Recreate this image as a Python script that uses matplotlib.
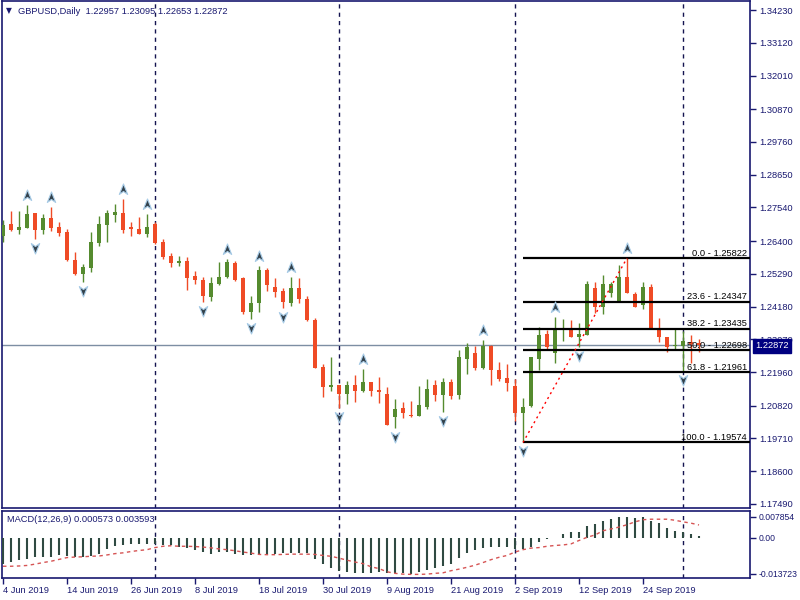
import matplotlib
matplotlib.use('Agg')
import matplotlib.pyplot as plt
import numpy as np
from matplotlib.path import Path
import matplotlib.transforms as mtransforms

# ---------------- data ----------------
symbol_title = "GBPUSD,Daily  1.22957 1.23095 1.22653 1.22872"
macd_title = "MACD(12,26,9) 0.000573 0.003593"

date_tick_idx = [0, 8, 16, 24, 32, 40, 48, 56, 64, 72, 80]
date_tick_labels = ["4 Jun 2019", "14 Jun 2019", "26 Jun 2019", "8 Jul 2019",
                    "18 Jul 2019", "30 Jul 2019", "9 Aug 2019", "21 Aug 2019",
                    "2 Sep 2019", "12 Sep 2019", "24 Sep 2019"]
month_sep_idx = [19, 42, 64, 85]

opens = [1.2657, 1.2698, 1.2678, 1.2684, 1.2735, 1.2678, 1.2718, 1.2688, 1.2671, 1.2576,
         1.2528, 1.2549, 1.2633, 1.2694, 1.2728, 1.2735, 1.2688, 1.2681, 1.2664, 1.2698,
         1.2637, 1.2589, 1.2566, 1.2573, 1.2522, 1.2508, 1.2450, 1.2495, 1.2518, 1.2566,
         1.2515, 1.2400, 1.2430, 1.2542, 1.2484, 1.2471, 1.2430, 1.2481, 1.2444, 1.2373,
         1.2213, 1.2146, 1.2152, 1.2122, 1.2152, 1.2132, 1.2162, 1.2135, 1.2122, 1.2044,
         1.2074, 1.2051, 1.2047, 1.2078, 1.2152, 1.2118, 1.2162, 1.2118, 1.2240, 1.2261,
         1.2210, 1.2284, 1.2203, 1.2176, 1.2149, 1.2057, 1.2081, 1.2240, 1.2325, 1.2261,
         1.2339, 1.2342, 1.2315, 1.2322, 1.2481, 1.2417, 1.2464, 1.2434, 1.2518, 1.2461,
         1.2423, 1.2484, 1.2342, 1.2315, 1.2284, 1.2284, 1.2298, 1.22957]
highs = [1.2711, 1.2742, 1.2742, 1.2762, 1.2735, 1.2732, 1.2755, 1.2705, 1.2681, 1.2603,
         1.2562, 1.2671, 1.2725, 1.2745, 1.2766, 1.2783, 1.2705, 1.2722, 1.2732, 1.2705,
         1.2647, 1.2600, 1.2589, 1.2586, 1.2539, 1.2518, 1.2518, 1.2569, 1.2579, 1.2573,
         1.2518, 1.2454, 1.2556, 1.2549, 1.2515, 1.2481, 1.2518, 1.2515, 1.2454, 1.2379,
         1.2223, 1.2247, 1.2152, 1.2166, 1.2186, 1.2207, 1.2162, 1.2179, 1.2146, 1.2105,
         1.2095, 1.2098, 1.2149, 1.2173, 1.2169, 1.2176, 1.2173, 1.2271, 1.2295, 1.2284,
         1.2305, 1.2288, 1.2230, 1.2223, 1.2173, 1.2108, 1.2247, 1.2349, 1.2339, 1.2383,
         1.2376, 1.2373, 1.2362, 1.2505, 1.2501, 1.2525, 1.2501, 1.2559, 1.25822, 1.2467,
         1.2501, 1.2495, 1.2379, 1.2315, 1.2342, 1.2335, 1.2322, 1.23095]
lows = [1.2637, 1.2674, 1.2664, 1.2684, 1.2647, 1.2664, 1.2674, 1.2657, 1.2572, 1.2525,
        1.2501, 1.2535, 1.2623, 1.2637, 1.2705, 1.2667, 1.2657, 1.2664, 1.2654, 1.2630,
        1.2579, 1.2552, 1.2556, 1.2474, 1.2495, 1.2434, 1.2437, 1.2491, 1.2515, 1.2505,
        1.2393, 1.2376, 1.2400, 1.2471, 1.2450, 1.2413, 1.2420, 1.2430, 1.2369, 1.2210,
        1.2112, 1.2132, 1.2074, 1.2088, 1.2095, 1.2129, 1.2115, 1.2091, 1.2017, 1.2007,
        1.2040, 1.2044, 1.2047, 1.2071, 1.2098, 1.2061, 1.2105, 1.2105, 1.2190, 1.2203,
        1.2207, 1.2152, 1.2166, 1.2132, 1.2030, 1.19574, 1.2078, 1.2203, 1.2274, 1.2227,
        1.2301, 1.2315, 1.2281, 1.2322, 1.2396, 1.2393, 1.2450, 1.2434, 1.2464, 1.2417,
        1.2410, 1.2342, 1.2298, 1.2264, 1.2271, 1.2200, 1.2227, 1.22653]
closes = [1.2694, 1.2678, 1.2688, 1.2732, 1.2678, 1.2718, 1.2684, 1.2667, 1.2576, 1.2528,
          1.2552, 1.2637, 1.2698, 1.2735, 1.2738, 1.2678, 1.2681, 1.2664, 1.2688, 1.2633,
          1.2586, 1.2566, 1.2573, 1.2515, 1.2508, 1.2454, 1.2498, 1.2518, 1.2569, 1.2508,
          1.2400, 1.2430, 1.2542, 1.2491, 1.2467, 1.2434, 1.2481, 1.2444, 1.2373, 1.2210,
          1.2146, 1.2152, 1.2122, 1.2152, 1.2132, 1.2162, 1.2132, 1.2129, 1.2017, 1.2071,
          1.2057, 1.2047, 1.2085, 1.2139, 1.2118, 1.2162, 1.2115, 1.2247, 1.2281, 1.2210,
          1.2284, 1.2203, 1.2173, 1.2159, 1.2057, 1.2078, 1.2247, 1.2322, 1.2281, 1.2339,
          1.2345, 1.2315, 1.2325, 1.2495, 1.2417, 1.2495, 1.2495, 1.2518, 1.2464, 1.2417,
          1.2484, 1.2342, 1.2315, 1.2281, 1.2288, 1.2301, 1.2291, 1.22872]

fractal_up_idx = [3, 6, 15, 18, 28, 32, 36, 45, 60, 69, 78]
fractal_down_idx = [4, 10, 25, 31, 35, 42, 49, 55, 65, 72, 85]

macd_main = [-0.0099, -0.0093, -0.0084, -0.0080, -0.0074, -0.0074, -0.0074, -0.0068, -0.0070, -0.0074,
             -0.0074, -0.0070, -0.0061, -0.0045, -0.0033, -0.0028, -0.0026, -0.0024, -0.0024, -0.0024,
             -0.0028, -0.0030, -0.0036, -0.0039, -0.0049, -0.0055, -0.0061, -0.0055, -0.0055, -0.0061,
             -0.0065, -0.0068, -0.0061, -0.0061, -0.0061, -0.0059, -0.0059, -0.0059, -0.0059, -0.0080,
             -0.0099, -0.0114, -0.0126, -0.0130, -0.0136, -0.0136, -0.0136, -0.0130, -0.0136, -0.0136,
             -0.0136, -0.0137, -0.0130, -0.0124, -0.0115, -0.0109, -0.0099, -0.0078, -0.0059, -0.0049,
             -0.0040, -0.0036, -0.0034, -0.0034, -0.0043, -0.0043, -0.0034, -0.0015, -0.0005, -0.0001,
             0.0014, 0.0020, 0.0023, 0.0045, 0.0051, 0.0064, 0.0070, 0.0079, 0.007854, 0.0074,
             0.0078, 0.0064, 0.0054, 0.0038, 0.0026, 0.0020, 0.0015, 0.0007]
macd_signal = [-0.0109, -0.0109, -0.0108, -0.0106, -0.0101, -0.0095, -0.0090, -0.0083, -0.0076, -0.0074,
               -0.0073, -0.0071, -0.0070, -0.0066, -0.0061, -0.0058, -0.0053, -0.0049, -0.0046, -0.0038,
               -0.0033, -0.0031, -0.0033, -0.0033, -0.0034, -0.0036, -0.0039, -0.0043, -0.0046, -0.0050,
               -0.0055, -0.0059, -0.0064, -0.0065, -0.0065, -0.0064, -0.0063, -0.0063, -0.0063, -0.0064,
               -0.0068, -0.0071, -0.0078, -0.0086, -0.0093, -0.0099, -0.0111, -0.0118, -0.0130, -0.0136,
               -0.0139, -0.0140, -0.0140, -0.0139, -0.0136, -0.0134, -0.0126, -0.0120, -0.0113, -0.0105,
               -0.0095, -0.0084, -0.0075, -0.0068, -0.0055, -0.0046, -0.0040, -0.0038, -0.0033, -0.0030,
               -0.0028, -0.0024, -0.0011, 0.0001, 0.0010, 0.0026, 0.0033, 0.0040, 0.0049, 0.0060,
               0.0068, 0.0070, 0.0070, 0.0070, 0.0066, 0.0060, 0.0055, 0.0048]

fib_start_idx = 65
fib_end_idx = 78
fib_pcts = ["0.0", "23.6", "38.2", "50.0", "61.8", "100.0"]
fib_levels = [1.25822, 1.24347, 1.23435, 1.22698, 1.21961, 1.19574]

last_price = 1.22872
price_ticks = [1.34230, 1.33120, 1.32010, 1.30870, 1.29760, 1.28650, 1.27540, 1.26400,
               1.25290, 1.24180, 1.23070, 1.21960, 1.20820, 1.19710, 1.18600, 1.17490]
macd_ticks = [0.007854, 0.0, -0.013723]
macd_tick_labels = ["0.007854", "0.00", "-0.013723"]

# ---------------- style ----------------
NAVY = '#191970'
BULL = '#558b2f'
BEAR = '#ef4b26'
FONT = 'Liberation Sans'
FS = 6.7

plt.rcParams['font.family'] = [FONT, 'DejaVu Sans']

fig = plt.figure(figsize=(8, 6), dpi=100)
ax = fig.add_axes([2/800, 1-508/600, 748/800, 507/600])
ax2 = fig.add_axes([2/800, 1-578/600, 748/800, 67/600])

n = len(closes)
x = np.arange(n)
o = np.array(opens); h = np.array(highs); l = np.array(lows); c = np.array(closes)
up = c >= o
colors = np.where(up, BULL, BEAR)

XMIN, XMAX = -0.125, 93.375

# current price line
ax.axhline(last_price, color='#7d8ea3', lw=1, zorder=1)

# wicks
ax.vlines(x, l, h, colors=colors, lw=1, zorder=3)
# bodies
bottoms = np.minimum(o, c)
heights = np.maximum(np.abs(c - o), 0.0003)
ax.bar(x, heights, bottom=bottoms, width=0.62, color=colors, lw=0, zorder=4)

# fibonacci retracement
ax.hlines(fib_levels, fib_start_idx, XMAX, colors='black', lw=1.6, zorder=5)
ax.plot([fib_start_idx, fib_end_idx], [fib_levels[-1], fib_levels[0]],
        color='red', lw=1, ls=(0, (1.5, 2.5)), zorder=6)
lab_tr = mtransforms.blended_transform_factory(ax.transAxes, ax.transData)
lab_tr = mtransforms.offset_copy(lab_tr, fig=fig, x=0, y=2.5, units='dots')
for pct, lev in zip(fib_pcts, fib_levels):
    ax.text((747-2)/748, lev, f"{pct} - {lev:.5f}", transform=lab_tr,
            ha='right', va='baseline', fontsize=FS, color='black', zorder=7)

# fractal markers
up_marker = Path([(0, 1), (0.75, -0.9), (0, -0.35), (-0.75, -0.9), (0, 1)],
                 [Path.MOVETO, Path.LINETO, Path.LINETO, Path.LINETO, Path.CLOSEPOLY])
down_marker = Path([(0, -1), (0.75, 0.9), (0, 0.35), (-0.75, 0.9), (0, -1)],
                   [Path.MOVETO, Path.LINETO, Path.LINETO, Path.LINETO, Path.CLOSEPOLY])
tr_up = mtransforms.offset_copy(ax.transData, fig=fig, x=0, y=10, units='dots')
tr_dn = mtransforms.offset_copy(ax.transData, fig=fig, x=0, y=-9, units='dots')
ax.plot(fractal_up_idx, [highs[i] for i in fractal_up_idx], transform=tr_up, ls='none',
        marker=up_marker, ms=8, mfc='#34424c', mec='#a9cde8', mew=0.8, zorder=8)
ax.plot(fractal_down_idx, [lows[i] for i in fractal_down_idx], transform=tr_dn, ls='none',
        marker=down_marker, ms=8, mfc='#34424c', mec='#a9cde8', mew=0.8, zorder=8)

ax.set_xlim(XMIN, XMAX)
ax.set_ylim(1.17354, 1.34535)
ax.yaxis.tick_right()
ax.set_yticks(price_ticks)
ax.set_yticklabels([f"{t:.5f}" for t in price_ticks])
ax.set_xticks([])
ax.tick_params(axis='y', direction='out', length=4, width=1, colors=NAVY,
               labelsize=FS, pad=3)

# MACD panel
ax2.vlines(x, 0, macd_main, colors='#2f4a42', lw=1.5, zorder=3)
ax2.plot(x, macd_signal, color='#d65454', lw=1, ls=(0, (2.5, 2.5)), zorder=4)
ax2.set_xlim(XMIN, XMAX)
ax2.set_ylim(-0.015375, 0.010125)
ax2.yaxis.tick_right()
ax2.set_yticks(macd_ticks)
ax2.set_yticklabels(macd_tick_labels)
ax2.set_xticks(date_tick_idx)
ax2.set_xticklabels(date_tick_labels, ha='left')
ax2.tick_params(axis='y', direction='out', length=4, width=1, colors=NAVY,
                labelsize=6.2, pad=2)
ax2.tick_params(axis='x', direction='out', length=4, width=1, colors=NAVY,
                labelsize=FS, pad=2)

for a in (ax, ax2):
    for i in month_sep_idx:
        a.axvline(i, color='#141450', lw=1, ls=(0, (3, 3)), zorder=2)
    for s in a.spines.values():
        s.set_color(NAVY)
        s.set_linewidth(1.2)
    a.set_facecolor('white')

# texts
fig.text(6/800, 1-11/600, "\u25bc", fontsize=5.5, color=NAVY, va='center', ha='left',
         family='DejaVu Sans')
fig.text(18/800, 1-11/600, symbol_title, fontsize=FS, color=NAVY, va='center', ha='left')
fig.text(7/800, 1-520/600, macd_title, fontsize=FS, color=NAVY, va='center', ha='left')
fig.text(755/800, 1-346/600, f"{last_price:.5f}", fontsize=FS, color='white',
         va='center', ha='left', zorder=10,
         bbox=dict(boxstyle='square,pad=0.25', fc='#000080', ec='#000080'))

fig.savefig('out.png', dpi=100, facecolor='white')
